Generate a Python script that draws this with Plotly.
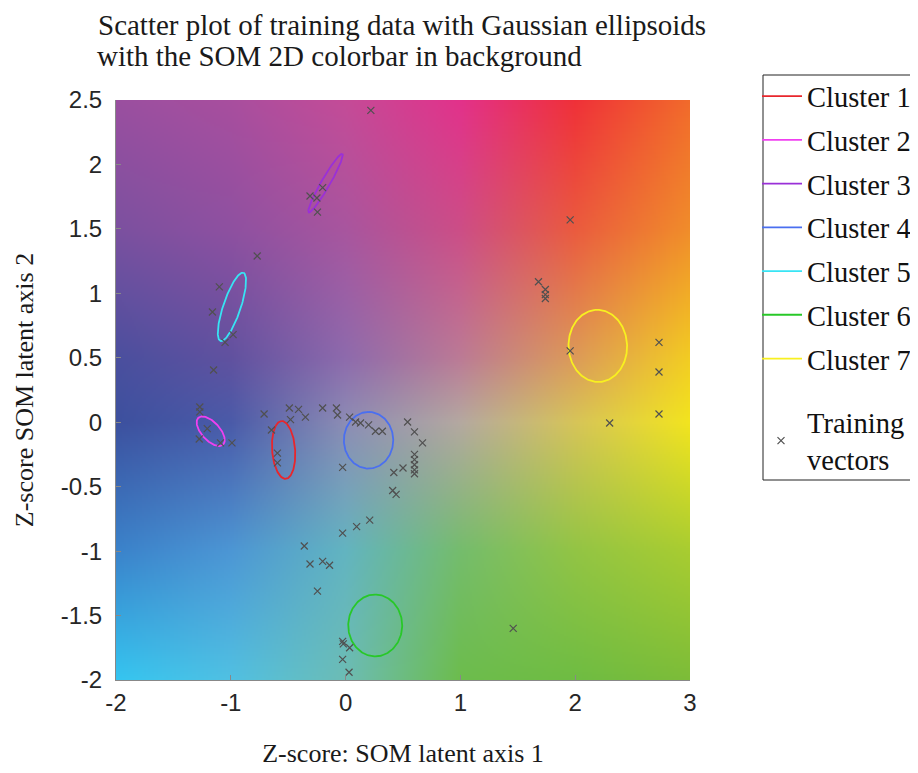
import numpy as np
import plotly.graph_objects as go

# ---------------- data ----------------
# SOM 2D colour map anchors (read from the background)
bg_x = [-2, -1, 0, 1, 2, 3]
bg_y = [-2, -1, 0, 0.5, 1.5, 2.5]
bg_rows = [
    ["#34c5f0", "#50c0e2", "#6cbcb4", "#6cbc4c", "#6ebc42", "#7cbc38"],  # y=-2
    ["#3a82ca", "#4c96d4", "#62b4c0", "#74bc6c", "#92c444", "#a8cc30"],  # y=-1
    ["#3c509e", "#4a5aa8", "#8c8cb4", "#b4a8a0", "#d6c458", "#f2e41e"],  # y=0
    ["#4a4f9e", "#60519f", "#8d6aac", "#bb7a95", "#dc9a58", "#f2cc22"],  # y=0.5
    ["#7b509f", "#8e50a0", "#a8559e", "#cc4d86", "#ea5a3e", "#f08c2a"],  # y=1.5
    ["#9a4f9f", "#a84e9e", "#c44b97", "#e2318a", "#ef3038", "#f16a2b"],  # y=2.5
]

cluster_names = ["Cluster 1", "Cluster 2", "Cluster 3", "Cluster 4",
                 "Cluster 5", "Cluster 6", "Cluster 7"]
cluster_colors = ["#e8262c", "#f040f0", "#9a30d8", "#4a6ff0",
                  "#38e4f4", "#28c828", "#f8f020"]
cluster_cx = [-0.54, -1.175, -0.175, 0.20, -0.99, 0.258, 2.197]
cluster_cy = [-0.215, -0.07, 1.855, -0.14, 0.895, -1.577, 0.592]
cluster_a = [0.225, 0.15, 0.27, 0.22, 0.283, 0.24, 0.28]      # semi-major
cluster_b = [0.10, 0.075, 0.037, 0.215, 0.075, 0.235, 0.255]  # semi-minor
cluster_ang = [95, -42, 57, 90, 69, 90, 95]                   # degrees

train_x = [0.22, -0.31, -0.20, -0.25, -0.245, -0.77, -1.10, -1.16, -1.05, -0.98,
           -1.15, -1.27, -1.27, -1.205, -1.275, -1.09, -0.99, -0.71, -0.49, -0.41,
           -0.35, -0.646, -0.48, -0.594, -0.594, -0.2, -0.08, -0.07, 0.035, 0.087,
           0.13, 0.20, 0.26, 0.32, 0.54, 0.60, 0.67, 0.60, 0.60, 0.60,
           0.60, 0.60, 0.50, 0.42, -0.026, 0.41, 0.44, 0.21, 0.096, -0.026,
           -0.36, -0.31, -0.20, -0.14, -0.245, -0.026, -0.02, 0.035, -0.026, 0.03,
           1.46, 1.956, 1.68, 1.74, 1.74, 1.74, 1.956, 2.73, 2.73, 2.73,
           2.30]
train_y = [2.42, 1.755, 1.82, 1.74, 1.63, 1.29, 1.05, 0.855, 0.62, 0.68,
           0.405, 0.118, 0.08, -0.05, -0.13, -0.16, -0.16, 0.064, 0.11, 0.10,
           0.04, -0.06, 0.02, -0.24, -0.316, 0.11, 0.11, 0.056, 0.04, 0.002,
           -0.006, -0.02, -0.07, -0.07, 0.002, -0.075, -0.16, -0.25, -0.29, -0.33,
           -0.37, -0.40, -0.355, -0.39, -0.35, -0.53, -0.56, -0.76, -0.81, -0.86,
           -0.96, -1.10, -1.08, -1.11, -1.31, -1.70, -1.72, -1.75, -1.84, -1.94,
           -1.60, 1.57, 1.09, 1.03, 0.99, 0.96, 0.553, 0.62, 0.39, 0.064,
           -0.006]

x_range = [-2, 3]
y_range = [-2, 2.5]
x_ticks = [-2, -1, 0, 1, 2, 3]
x_tick_labels = ["-2", "-1", "0", "1", "2", "3"]
y_ticks = [-2, -1.5, -1, -0.5, 0, 0.5, 1, 1.5, 2, 2.5]
y_tick_labels = ["-2", "-1.5", "-1", "-0.5", "0", "0.5", "1", "1.5", "2", "2.5"]

title_line1 = "Scatter plot of training data with Gaussian ellipsoids"
title_line2 = "with the SOM 2D colorbar in background"

# ---------------- background image ----------------
def hex2rgb(h):
    h = h.lstrip("#")
    return [int(h[i:i + 2], 16) for i in (0, 2, 4)]

anchor = np.array([[hex2rgb(c) for c in row] for row in bg_rows], dtype=float)
nx, ny = 287, 290
dx = (x_range[1] - x_range[0]) / nx
dy = (y_range[1] - y_range[0]) / ny
px = x_range[0] + dx * (np.arange(nx) + 0.5)
py = y_range[0] + dy * (np.arange(ny) + 0.5)
tmp = np.stack([np.stack([np.interp(px, bg_x, anchor[r, :, k]) for k in range(3)], axis=-1)
                for r in range(len(bg_y))])
img = np.empty((ny, nx, 3))
for k in range(3):
    for i in range(nx):
        img[:, i, k] = np.interp(py, bg_y, tmp[:, i, k])
img = np.clip(np.round(img), 0, 255).astype(np.uint8)

fig = go.Figure()
fig.add_trace(go.Image(z=img, x0=px[0], dx=dx, y0=py[0], dy=dy, hoverinfo="skip"))

# ---------------- ellipses ----------------
t = np.linspace(0, 2 * np.pi, 181)
for i, name in enumerate(cluster_names):
    th = np.deg2rad(cluster_ang[i])
    ex = cluster_cx[i] + cluster_a[i] * np.cos(t) * np.cos(th) - cluster_b[i] * np.sin(t) * np.sin(th)
    ey = cluster_cy[i] + cluster_a[i] * np.cos(t) * np.sin(th) + cluster_b[i] * np.sin(t) * np.cos(th)
    fig.add_trace(go.Scatter(x=ex, y=ey, mode="lines", name=name, legendgroup=name,
                             legend="legend",
                             line=dict(color=cluster_colors[i], width=1.8)))

fig.add_trace(go.Scatter(x=train_x, y=train_y, mode="markers", name="Training<br>vectors",
                         legend="legend2",
                         marker=dict(symbol="x-thin", size=7,
                                     line=dict(width=1.2, color="#505050"))))

serif = "Liberation Serif, Times New Roman, serif"
sans = "Liberation Sans, Arial, sans-serif"

# figure is drawn at an 8px page offset; sizes/margins compensate
W, H = 910, 765
L, R, T, B = 108, 228, 92, 93
pw, ph = W - L - R, H - T - B

def paper_x(fx):
    return (fx - L) / pw

def paper_y(fy):
    return (H - B - fy) / ph

leg_font = dict(family=serif, size=28.5, color="#111")

fig.update_layout(
    width=W, height=H,
    margin=dict(l=L, r=R, t=T, b=B, autoexpand=False),
    paper_bgcolor="white", plot_bgcolor="white",
    title=dict(text=title_line1, x=90 / W, xanchor="left", xref="container",
               y=1 - 17 / H, yanchor="middle", yref="container",
               font=dict(family=serif, size=29, color="#1a1a1a")),
    annotations=[dict(text=title_line2, xref="paper", yref="paper",
                      x=paper_x(87), y=paper_y(48), xanchor="left", yanchor="middle",
                      showarrow=False, font=dict(family=serif, size=29, color="#1a1a1a"))],
    shapes=[dict(type="rect", xref="paper", yref="paper",
                 x0=paper_x(755), x1=paper_x(908), y0=paper_y(472), y1=paper_y(67),
                 line=dict(color="#222", width=1), fillcolor="white", layer="below")],
    legend=dict(x=paper_x(749), y=paper_y(63), xanchor="left", yanchor="top",
                borderwidth=0, bgcolor="rgba(0,0,0,0)", font=leg_font,
                tracegroupgap=3.7, itemwidth=40),
    legend2=dict(x=paper_x(747), y=paper_y(389), xanchor="left", yanchor="top",
                 borderwidth=0, bgcolor="rgba(0,0,0,0)", font=leg_font, itemwidth=42),
    showlegend=True,
)
fig.update_xaxes(range=x_range, tickvals=x_ticks, ticktext=x_tick_labels,
                 ticks="inside", ticklen=5,
                 tickcolor="#888", showline=True, linecolor="#888", linewidth=1,
                 showgrid=False, zeroline=False, mirror=False, ticklabelstandoff=1,
                 tickfont=dict(family=sans, size=24, color="#262626"),
                 title=dict(text="Z-score: SOM latent axis 1", standoff=29,
                            font=dict(family=serif, size=26, color="#1a1a1a")))
fig.update_yaxes(range=y_range, tickvals=y_ticks, ticktext=y_tick_labels,
                 ticks="inside", ticklen=5,
                 tickcolor="#888", showline=True, linecolor="#888", linewidth=1,
                 showgrid=False, zeroline=False, mirror=False, scaleanchor=False,
                 autorange=False, ticklabelstandoff=8,
                 tickfont=dict(family=sans, size=24, color="#262626"),
                 title=dict(text="Z-score SOM latent axis 2", standoff=19,
                            font=dict(family=serif, size=26, color="#1a1a1a")))

fig.write_html("out.html")
